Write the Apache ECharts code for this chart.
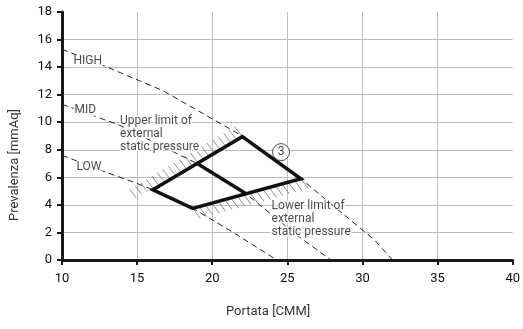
<!DOCTYPE html>
<html>
<head>
<meta charset="utf-8">
<script src="https://cdn.jsdelivr.net/npm/echarts@6/dist/echarts.min.js"></script>
<style>
  html, body { margin: 0; padding: 0; background: #fff; }
  #chart { width: 523px; height: 329px; }
</style>
</head>
<body>
<div id="chart"></div>
<script>
// --- Fan curves: flow [CMM] -> external static pressure [mmAq] ---
const highFlow = [10, 13, 16.7, 22, 25.9, 30.8, 32];
const highPress = [15.3, 14, 12.3, 9.0, 5.9, 1.45, 0];
const midFlow = [10, 12.4, 13.8, 19, 22.2, 25.7, 27.9];
const midPress = [11.3, 10.35, 9.8, 7.0, 4.85, 1.75, 0];
const lowFlow = [10, 12.85, 14.9, 16.05, 18.7, 21.1, 24.3];
const lowPress = [7.6, 6.4, 5.6, 5.1, 3.75, 2.2, 0];

// --- Operating range outline (closed) and the MID section inside it ---
const rangeFlow = [16.05, 22, 25.9, 18.7];
const rangePress = [5.1, 8.95, 5.9, 3.75];
const midInsideFlow = [19.0, 22.2];
const midInsidePress = [7.0, 4.85];

// --- Hatched limit edges (upper / lower limit of external static pressure) ---
const upperLimitFlow = [15.0, 22.0];
const upperLimitPress = [4.42, 8.95];
const lowerLimitFlow = [18.7, 25.9];
const lowerLimitPress = [3.75, 5.9];

// --- Annotations ---
const curveNames = ["HIGH", "MID", "LOW"];
const curveNameFlow = [10.66, 10.73, 10.86];
const curveNamePress = [14.42, 10.87, 6.74];
const limitNotes = ["Upper limit of\nexternal\nstatic pressure", "Lower limit of\nexternal\nstatic pressure"];
const limitNoteFlow = [13.83, 23.92];
const limitNotePress = [9.13, 2.97];
const rangeTag = "3";
const rangeTagFlow = 24.58;
const rangeTagPress = 7.83;

const xTitle = "Portata [CMM]";
const yTitle = "Prevalenza [mmAq]";

const FONT = "Roboto, 'Noto Sans', sans-serif";
const INK = "#1a1a1a";

const pairs = (xs, ys) => xs.map((x, i) => [x, ys[i]]);

function dashed(name, xs, ys) {
  return {
    name,
    type: "line",
    data: pairs(xs, ys),
    symbol: "none",
    silent: true,
    z: 2,
    lineStyle: { color: "#222", width: 1, type: [6, 4] },
  };
}

// short "\" strokes along an edge; dir -1 = above the edge, +1 = below
function renderHatch(params, api) {
  const a = api.coord([api.value(0), api.value(1)]);
  const b = api.coord([api.value(2), api.value(3)]);
  const dir = api.value(4);
  const len = Math.hypot(b[0] - a[0], b[1] - a[1]);
  const n = Math.max(1, Math.round(len / 6.6));
  const children = [];
  for (let i = 0; i <= n; i++) {
    const t = i / n;
    const x = a[0] + (b[0] - a[0]) * t;
    const y = a[1] + (b[1] - a[1]) * t;
    children.push({
      type: "line",
      shape: { x1: x + dir * 1, y1: y + dir * 1.3, x2: x + dir * 7.5, y2: y + dir * 10 },
      style: { stroke: "#8f8f8f", lineWidth: 1 },
    });
  }
  return { type: "group", children };
}

function renderRange(params, api) {
  const points = rangeFlow.map((f, i) => api.coord([f, rangePress[i]]));
  return {
    type: "polygon",
    shape: { points },
    style: { fill: "none", stroke: "#111", lineWidth: 3.5, lineJoin: "miter" },
  };
}

const chart = echarts.init(document.getElementById("chart"), null, { renderer: "canvas" });

chart.setOption({
  animation: false,
  grid: { left: 62, right: 6, top: 12, bottom: 69 },
  xAxis: {
    type: "value",
    min: 10,
    max: 40,
    interval: 5,
    axisLine: { onZero: false, lineStyle: { color: INK, width: 3 } },
    axisTick: { length: 5, lineStyle: { color: INK, width: 2 } },
    axisLabel: { color: "#111", fontSize: 13, fontFamily: FONT, margin: 12 },
    splitLine: { show: true, showMinLine: false, showMaxLine: false, lineStyle: { color: "#bdbdbd", width: 1 } },
  },
  yAxis: {
    type: "value",
    min: 0,
    max: 18,
    interval: 2,
    axisLine: { show: true, onZero: false, lineStyle: { color: INK, width: 3 } },
    axisTick: { show: true, length: 5, lineStyle: { color: INK, width: 2 } },
    axisLabel: { color: "#111", fontSize: 13, fontFamily: FONT, margin: 10 },
    splitLine: { show: true, showMinLine: false, showMaxLine: false, lineStyle: { color: "#bdbdbd", width: 1 } },
  },
  graphic: [
    {
      type: "text",
      left: 226,
      top: 305,
      style: { text: xTitle, fill: "#333", font: `13px ${FONT}` },
    },
    {
      type: "text",
      x: 15,
      y: 165,
      rotation: Math.PI / 2,
      style: { text: yTitle, fill: "#333", font: `13px ${FONT}`, align: "center", verticalAlign: "middle" },
    },
  ],
  series: [
    {
      name: "limit hatch",
      type: "custom",
      silent: true,
      z: 1,
      renderItem: renderHatch,
      data: [
        [upperLimitFlow[0], upperLimitPress[0], upperLimitFlow[1], upperLimitPress[1], -1],
        [lowerLimitFlow[0], lowerLimitPress[0], lowerLimitFlow[1], lowerLimitPress[1], 1],
      ],
    },
    dashed("HIGH", highFlow, highPress),
    dashed("MID", midFlow, midPress),
    dashed("LOW", lowFlow, lowPress),
    {
      name: "range",
      type: "custom",
      silent: true,
      z: 3,
      renderItem: renderRange,
      data: [[rangeFlow[0], rangePress[0]]],
    },
    {
      name: "MID inside",
      type: "line",
      data: pairs(midInsideFlow, midInsidePress),
      symbol: "none",
      silent: true,
      z: 3,
      lineStyle: { color: "#111", width: 3.5 },
    },
    {
      name: "curve names",
      type: "scatter",
      silent: true,
      z: 4,
      symbolSize: 1,
      itemStyle: { color: "rgba(0,0,0,0)" },
      data: curveNames.map((t, i) => ({ value: [curveNameFlow[i], curveNamePress[i]], name: t })),
      label: {
        show: true,
        position: "right",
        distance: 0,
        formatter: (p) => p.name,
        color: "#1a1a1a",
        fontSize: 12,
        fontFamily: FONT,
        backgroundColor: "#fff",
        padding: [0, 1],
      },
    },
    {
      name: "limit notes",
      type: "scatter",
      silent: true,
      z: 4,
      symbolSize: 1,
      itemStyle: { color: "rgba(0,0,0,0)" },
      data: limitNotes.map((t, i) => ({ value: [limitNoteFlow[i], limitNotePress[i]], name: t })),
      label: {
        show: true,
        position: "right",
        distance: 0,
        formatter: (p) => p.name,
        color: "#1a1a1a",
        fontSize: 12,
        lineHeight: 13,
        fontFamily: FONT,
        textBorderColor: "#fff",
        textBorderWidth: 3,
      },
    },
    {
      name: "range tag",
      type: "scatter",
      silent: true,
      z: 4,
      symbol: "circle",
      symbolSize: 17,
      itemStyle: { color: "#fff", borderColor: "#222", borderWidth: 1 },
      data: [[rangeTagFlow, rangeTagPress]],
      label: { show: true, position: "inside", formatter: rangeTag, color: "#1a1a1a", fontSize: 12, fontFamily: FONT },
    },
  ],
});
</script>
</body>
</html>
